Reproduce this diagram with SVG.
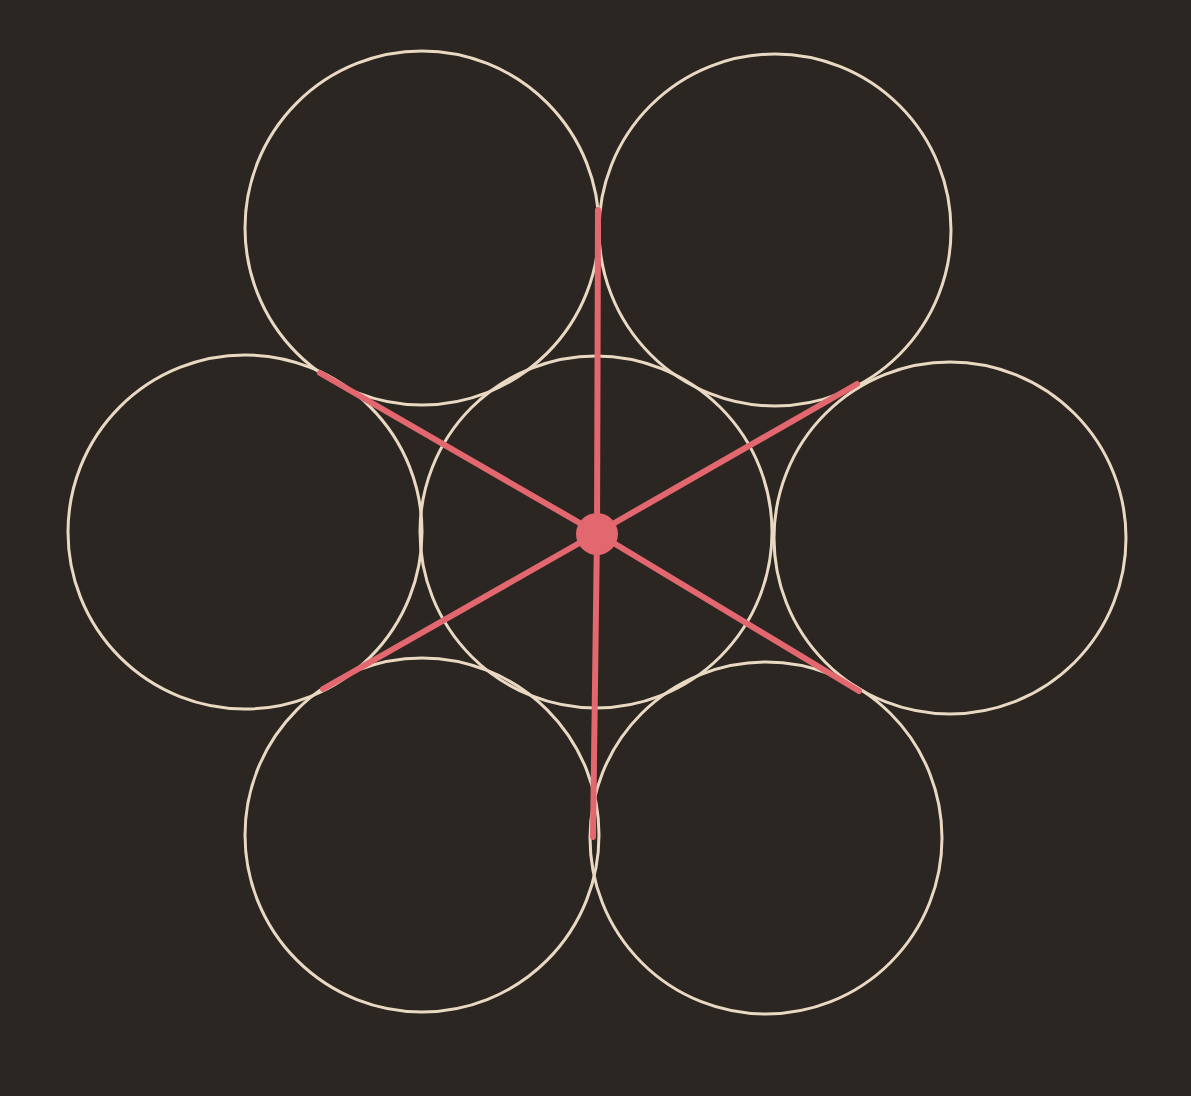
<svg xmlns="http://www.w3.org/2000/svg" width="1191" height="1096" viewBox="0 0 1191 1096">
<style>
.c{fill:none;stroke:#e9d9c2;stroke-width:3}
.r{stroke:#e2676f;stroke-width:6;stroke-linecap:round;fill:none}
</style>
<rect width="1191" height="1096" fill="#2b2621"/>
<g id="circles">
<circle id="tl" class="c" cx="422" cy="228" r="177"/>
<circle id="tr" class="c" cx="775" cy="230" r="176"/>
<circle id="l" class="c" cx="245" cy="532" r="177"/>
<circle id="m" class="c" cx="596" cy="532" r="176"/>
<circle id="r" class="c" cx="950" cy="538" r="176"/>
<circle id="bl" class="c" cx="422" cy="835" r="177"/>
<circle id="br" class="c" cx="766" cy="838" r="176"/>
</g>
<g id="spokes">
<line class="r" x1="597" y1="533" x2="598" y2="210"/>
<line class="r" x1="597" y1="533" x2="857" y2="384"/>
<line class="r" x1="597" y1="533" x2="859" y2="691"/>
<line class="r" x1="597" y1="533" x2="593" y2="837"/>
<line class="r" x1="597" y1="533" x2="323" y2="689"/>
<line class="r" x1="597" y1="533" x2="320" y2="373"/>
<circle cx="597" cy="534" r="21" fill="#e2676f"/>
</g>
</svg>
